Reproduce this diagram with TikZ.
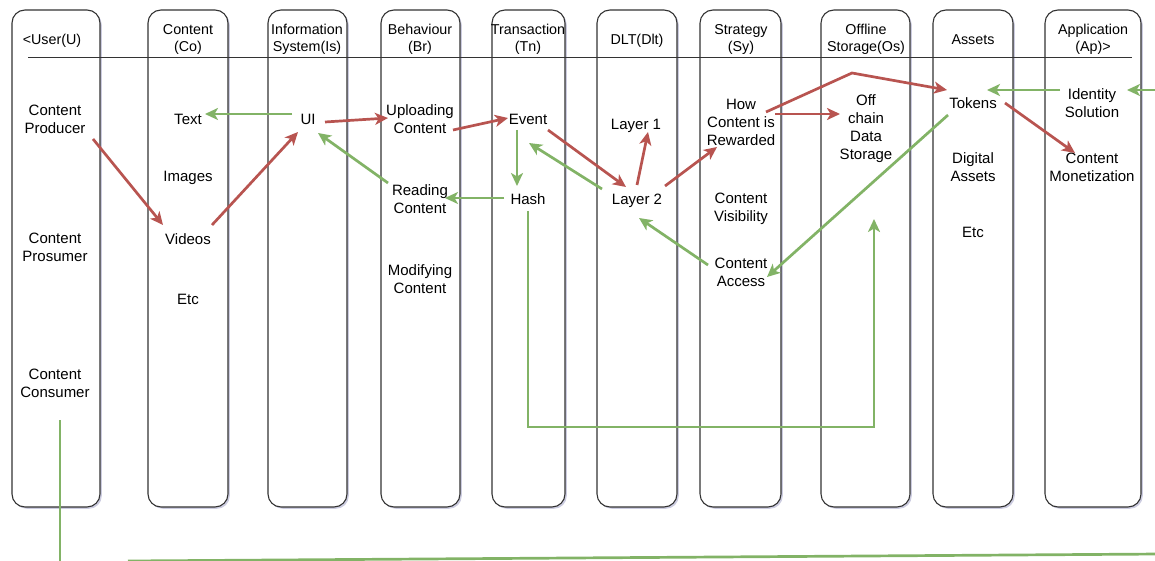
\documentclass[tikz,border=0pt]{standalone}
\usepackage{fontspec}
\setmainfont{Liberation Sans}
\usetikzlibrary{arrows.meta,shadows}
\definecolor{linkred}{HTML}{B85450}
\definecolor{linkgreen}{HTML}{82B366}
\definecolor{frame}{HTML}{333333}

\begin{document}
\begin{tikzpicture}[x=1pt,y=-1pt,
  lane/.style={draw=frame, line width=1.1pt, fill=white, rounded corners=13pt,
    minimum height=497pt, inner sep=0pt,
    drop shadow={shadow xshift=1.8pt, shadow yshift=-1.8pt, fill=blue!40!black, opacity=0.2}},
  head/.style={font=\fontsize{14.3}{17}\selectfont, align=center, inner sep=0pt,
    execute at begin node={\rule{0pt}{18pt}},
    execute at end node={\rule[-5.1pt]{0pt}{5.1pt}}},
  item/.style={font=\fontsize{15}{18}\selectfont, align=center, inner sep=0pt,
    execute at begin node={\rule{0pt}{18.6pt}},
    execute at end node={\rule[-5.4pt]{0pt}{5.4pt}}},
  link/.style={line width=2.7pt, line join=miter, -{Stealth[length=13pt,width=12pt,inset=3.5pt]}},
  red link/.style={link, draw=linkred},
  green link/.style={link, draw=linkgreen},
  green line/.style={line width=2.7pt, draw=linkgreen}]

\useasboundingbox (0,0) rectangle (1155,561);
\clip (0,0) rectangle (1155,561);

% swim lanes
\node[lane, minimum width=88pt] (uBox)  at (56,258.5)   {};
\node[lane, minimum width=80pt] (coBox) at (188,258.5)  {};
\node[lane, minimum width=79pt] (isBox) at (307.5,258.5){};
\node[lane, minimum width=79pt] (brBox) at (420.5,258.5){};
\node[lane, minimum width=73pt] (tnBox) at (528.5,258.5){};
\node[lane, minimum width=80pt] (dlBox) at (637,258.5)  {};
\node[lane, minimum width=81pt] (syBox) at (740.5,258.5){};
\node[lane, minimum width=89pt] (osBox) at (865.5,258.5){};
\node[lane, minimum width=80pt] (asBox) at (973,258.5)  {};
\node[lane, minimum width=96pt] (apBox) at (1093,258.5) {};

% separator under the lane titles
\coordinate (sepL) at (28,58);
\coordinate (sepR) at (1132,58);
\draw[frame, line width=1pt] (sepL) -- (sepR);

% lane titles
\node[head] (uHead)  at (52,38)    {<User(U)};
\node[head] (coHead) at (188,40.5) {Content\\(Co)};
\node[head] (isHead) at (307,40.5) {Information\\System(Is)};
\node[head] (brHead) at (420,40.5) {Behaviour\\(Br)};
\node[head] (tnHead) at (528,40.5) {Transaction\\(Tn)};
\node[head] (dlHead) at (637,38)   {DLT(Dlt)};
\node[head] (syHead) at (741,40.5) {Strategy\\(Sy)};
\node[head] (osHead) at (866,40.5) {Offline\\Storage(Os)};
\node[head] (asHead) at (973,38)   {Assets};
\node[head] (apHead) at (1093,40.5){Application\\(Ap)>};

% lane contents
\node[item] (prod)   at (55,121.5){Content\\Producer};
\node[item] (pros)   at (55,250)  {Content\\Prosumer};
\node[item] (cons)   at (55,386)  {Content\\Consumer};
\node[item] (text)   at (188,118) {Text};
\node[item] (images) at (188,175) {Images};
\node[item] (videos) at (188,238) {Videos};
\node[item] (etcA)   at (188,298) {Etc};
\node[item] (ui)     at (308,118) {UI};
\node[item] (upl)    at (420,122) {Uploading\\Content};
\node[item] (read)   at (420,202) {Reading\\Content};
\node[item] (modi)   at (420,282) {Modifying\\Content};
\node[item] (event)  at (528,118) {Event};
\node[item] (hash)   at (528,198) {Hash};
\node[item] (lone)   at (636,123) {Layer 1};
\node[item] (ltwo)   at (637,198) {Layer 2};
\node[item] (rew)    at (741,125) {How\\Content is\\Rewarded};
\node[item] (vis)    at (741,210) {Content\\Visibility};
\node[item] (acc)    at (741,275) {Content\\Access};
\node[item] (off)    at (866,129.5){Off\\chain\\Data\\Storage};
\node[item] (tok)    at (973,102) {Tokens};
\node[item] (dig)    at (973,170) {Digital\\Assets};
\node[item] (etcB)   at (973,231) {Etc};
\node[item] (ids)    at (1092,105.5){Identity\\Solution};
\node[item] (mon)    at (1092,170){Content\\Monetization};

% helper points for routed connectors
\coordinate (bend)   at (852,73);
\coordinate (loopA)  at (528,427);
\coordinate (osIn)   at (874,219);
\coordinate (edgeIn) at (1160,90);
\coordinate (consDn) at (60,566);
\coordinate (botL)   at (128,561);
\coordinate (botR)   at (1160,554);

% red connectors
\draw[red link] ([shift={(38,17.5)}]prod.center) -- ([shift={(-25,-13)}]videos.center);
\draw[red link] ([shift={(24,-13)}]videos.center) -- ([shift={(-10,14)}]ui.center);
\draw[red link] ([shift={(17,4)}]ui.center)      -- ([shift={(-32,-4)}]upl.center);
\draw[red link] ([shift={(33,8)}]upl.center)     -- ([shift={(-20,0)}]event.center);
\draw[red link] ([shift={(20,12)}]event.center)  -- ([shift={(-11,-11)}]ltwo.center);
\draw[red link] ([shift={(0,-13)}]ltwo.center)   -- ([shift={(12,9)}]lone.center);
\draw[red link] ([shift={(28,-12)}]ltwo.center)  -- ([shift={(-24,22)}]rew.center);
\draw[red link] ([shift={(25,-13)}]rew.center) -- (bend) -- ([shift={(-26,-12)}]tok.center);
\draw[red link] ([shift={(34,-11)}]rew.center)   -- ([shift={(-26,-15.5)}]off.center);
\draw[red link] ([shift={(32,1)}]tok.center)     -- ([shift={(-17,-17)}]mon.center);

% green connectors
\draw[green link] ([shift={(-16,-4)}]ui.center)    -- ([shift={(17,-4)}]text.center);
\draw[green link] ([shift={(-32,-19)}]read.center) -- ([shift={(10,15)}]ui.center);
\draw[green link] ([shift={(-11,12)}]event.center) -- ([shift={(-11,-12)}]hash.center);
\draw[green link] ([shift={(-24,0)}]hash.center)   -- ([shift={(25,-4)}]read.center);
\draw[green link] ([shift={(-35,-9)}]ltwo.center)  -- ([shift={(1,25)}]event.center);
\draw[green link] ([shift={(-33,-10)}]acc.center)  -- ([shift={(2,20)}]ltwo.center);
\draw[green link] ([shift={(-25,13)}]tok.center)   -- ([shift={(26,2)}]acc.center);
\draw[green link] ([shift={(0,13)}]hash.center) -- (loopA) -| (osIn);
\draw[green link] ([shift={(-32,-15.5)}]ids.center) -- ([shift={(14,-12)}]tok.center);
\draw[green link] (edgeIn) -- ([shift={(35,-15.5)}]ids.center);
\draw[green line] ([shift={(5,34)}]cons.center) -- (consDn);
\draw[green line] (botL) -- (botR);

\end{tikzpicture}
\end{document}
